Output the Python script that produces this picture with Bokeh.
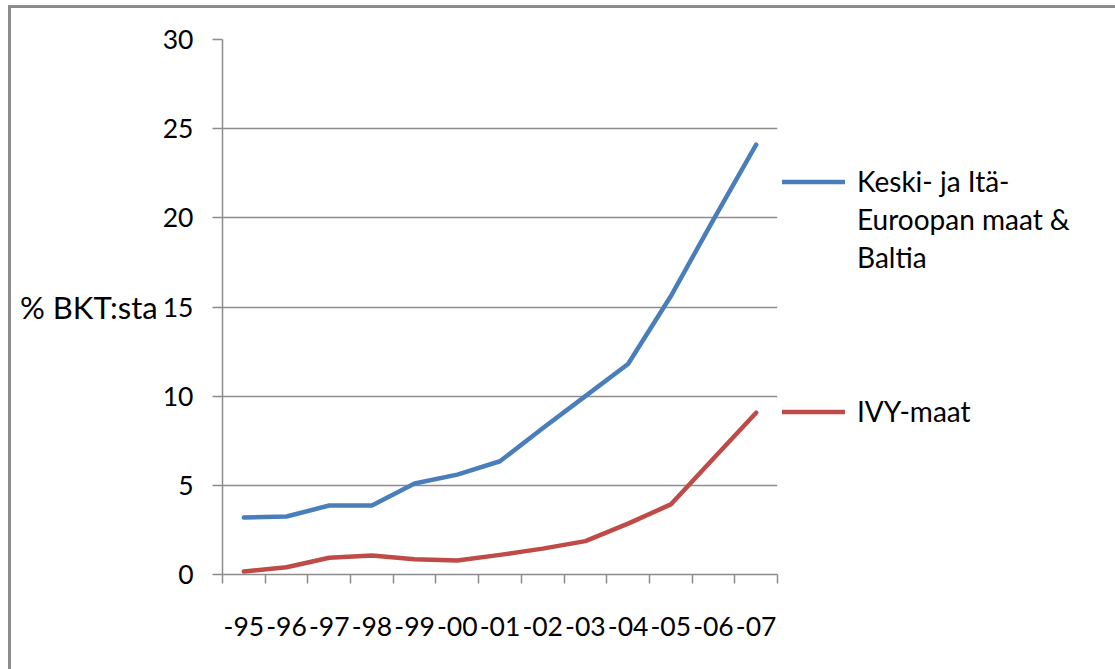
from bokeh.plotting import figure
from bokeh.models import Range1d, FixedTicker, Legend, LegendItem
from bokeh.embed import file_html
from bokeh.resources import INLINE

years = ["-95", "-96", "-97", "-98", "-99", "-00", "-01", "-02", "-03", "-04", "-05", "-06", "-07"]
kie_baltia = [3.2, 3.25, 3.87, 3.87, 5.1, 5.6, 6.35, 8.2, 10.0, 11.8, 15.6, 19.9, 24.1]
ivy_maat = [0.17, 0.41, 0.94, 1.07, 0.86, 0.79, 1.1, 1.45, 1.87, 2.85, 3.93, 6.5, 9.07]
y_ticks = [0, 5, 10, 15, 20, 25, 30]
kie_label_lines = ["Keski- ja Itä-", "Euroopan maat &", "Baltia"]
ivy_label = "IVY-maat"
y_label = "% BKT:sta"

FONT = "Lato"
FS = "26.5px"
LEG_FS = "28px"
GRAY = "#8C8C8C"
BLUE = "#4A7EBB"
RED = "#BE4B48"

x = [i + 0.5 for i in range(len(years))]

p = figure(frame_width=555, frame_height=535,
           min_border_left=211, min_border_top=31, min_border_right=338, min_border_bottom=95,
           x_range=Range1d(0, len(years)), y_range=Range1d(y_ticks[0], y_ticks[-1]),
           output_backend="svg", toolbar_location=None,
           background_fill_color="white", border_fill_color="white", outline_line_color=None)
p.styles = {"border-left": "3px solid #8C8C8C", "border-top": "3px solid #8C8C8C",
            "margin-left": "8px", "margin-top": "5px"}

r1 = p.line(x, kie_baltia, line_width=4.5, line_color=BLUE, line_cap="round", line_join="round")
r2 = p.line(x, ivy_maat, line_width=4.5, line_color=RED, line_cap="round", line_join="round")
# invisible renderer used only for the continuation lines of the wrapped legend label
r_blank = p.line(x=[], y=[], line_alpha=0)

# x axis
xa = p.xaxis[0]
xa.ticker = FixedTicker(ticks=x, minor_ticks=list(range(len(years) + 1)))
xa.major_label_overrides = {xv: lab for xv, lab in zip(x, years)}
xa.major_tick_out = 0
xa.major_tick_in = 0
xa.minor_tick_out = 9
xa.minor_tick_in = 0
xa.minor_tick_line_color = GRAY
xa.minor_tick_line_width = 1.5
xa.axis_line_color = GRAY
xa.axis_line_width = 1.5
xa.major_label_standoff = 33
xa.major_label_text_font = FONT
xa.major_label_text_font_size = FS
xa.major_label_text_color = "black"
p.xgrid.visible = False

# y axis
ya = p.yaxis[0]
ya.ticker = FixedTicker(ticks=y_ticks)
ya.major_tick_out = 10
ya.major_tick_in = 0
ya.major_tick_line_color = GRAY
ya.major_tick_line_width = 1.5
ya.minor_tick_line_color = None
ya.axis_line_color = GRAY
ya.axis_line_width = 1.5
ya.major_label_standoff = 19
ya.major_label_text_font = FONT
ya.major_label_text_font_size = FS
ya.major_label_text_color = "black"
ya.axis_label = y_label
ya.axis_label_orientation = "horizontal"
ya.axis_label_standoff = 2
ya.axis_label_text_font = FONT
ya.axis_label_text_font_size = "31px"
ya.axis_label_text_font_style = "normal"
ya.axis_label_text_color = "black"
p.ygrid.grid_line_color = GRAY
p.ygrid.grid_line_width = 1.5

items = [LegendItem(label=kie_label_lines[0], renderers=[r1])]
items += [LegendItem(label=t, renderers=[r_blank]) for t in kie_label_lines[1:]]
items += [LegendItem(label=" ", renderers=[r_blank]) for _ in range(4)]
items += [LegendItem(label=ivy_label, renderers=[r2])]

legend = Legend(items=items, location=(5, 146), orientation="vertical",
                border_line_color=None, background_fill_alpha=0,
                padding=0, margin=0, spacing=4,
                glyph_width=63, glyph_height=25, label_standoff=12,
                label_text_font=FONT, label_text_font_size=LEG_FS,
                label_text_color="black")
p.add_layout(legend, "right")

open("out.html", "w").write(file_html(p, INLINE))
